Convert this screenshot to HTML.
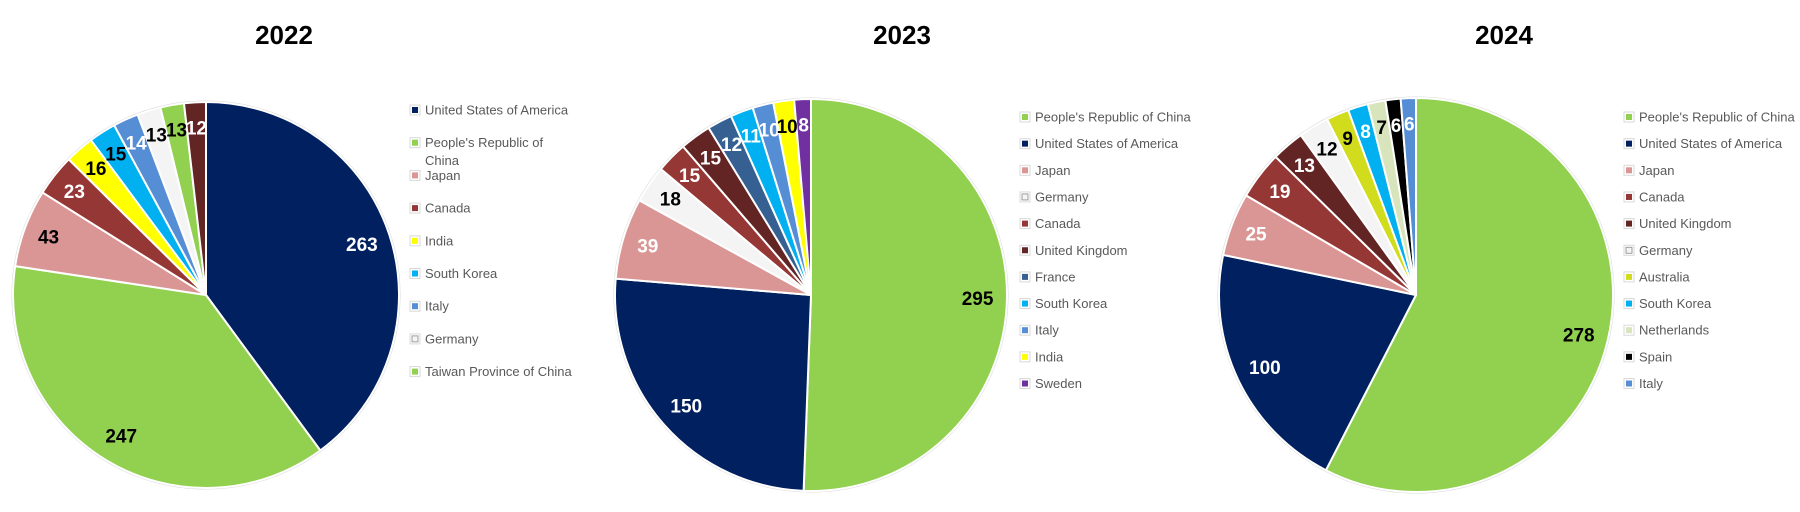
<!DOCTYPE html>
<html><head><meta charset="utf-8">
<style>
html,body{margin:0;padding:0;background:#fff;}
svg{display:block;font-family:"Liberation Sans",sans-serif;}
</style></head>
<body>
<svg id="chart" width="1800" height="512" viewBox="0 0 1800 512" xmlns="http://www.w3.org/2000/svg"></svg>
<script>
const cats2022 = ["United States of America","People's Republic of China","Japan","Canada","India","South Korea","Italy","Germany","Taiwan Province of China","United Kingdom"];
const vals2022 = [263,247,43,23,16,15,14,13,13,12];
const legend2022 = ["United States of America","People's Republic of\nChina","Japan","Canada","India","South Korea","Italy","Germany","Taiwan Province of China"];

const cats2023 = ["People's Republic of China","United States of America","Japan","Germany","Canada","United Kingdom","France","South Korea","Italy","India","Sweden"];
const vals2023 = [295,150,39,18,15,15,12,11,10,10,8];

const cats2024 = ["People's Republic of China","United States of America","Japan","Canada","United Kingdom","Germany","Australia","South Korea","Netherlands","Spain","Italy"];
const vals2024 = [278,100,25,19,13,12,9,8,7,6,6];

const colorOf = {"United States of America":"#002060","People's Republic of China":"#92d050","Japan":"#da9694","Canada":"#953735","India":"#ffff00","South Korea":"#00b0f0","Italy":"#558ed5","Germany":"#f4f4f4","Taiwan Province of China":"#92d050","United Kingdom":"#632523","France":"#366092","Sweden":"#7030a0","Australia":"#d0dc1c","Netherlands":"#d8e4bc","Spain":"#000000"};
const darkText = {"People's Republic of China":1,"India":1,"Germany":1,"Taiwan Province of China":1,"Australia":1,"Netherlands":1,"South Korea2022":1};

const charts = [
 {year:"2022",cats:cats2022,vals:vals2022,legend:legend2022,cx:206,cy:295,r:193,tx:284,lx:415,ly:110,step:32.7,labelColors:["#fff","#000","#000","#fff","#000","#000","#fff","#000","#000","#fff"]},
 {year:"2023",cats:cats2023,vals:vals2023,legend:cats2023,cx:811,cy:295,r:196,tx:902,lx:1025,ly:117,step:26.65,labelColors:["#000","#fff","#fff","#000","#fff","#fff","#fff","#fff","#fff","#000","#fff"]},
 {year:"2024",cats:cats2024,vals:vals2024,legend:cats2024,cx:1416,cy:295,r:197,tx:1504,lx:1629,ly:117,step:26.65,labelColors:["#000","#fff","#fff","#fff","#fff","#000","#000","#fff","#000","#fff","#fff"]}
];
const NS="http://www.w3.org/2000/svg";
const svg=document.getElementById('chart');
function mk(tag,attrs,parent){const e=document.createElementNS(NS,tag);for(const k in attrs)e.setAttribute(k,attrs[k]);parent.appendChild(e);return e;}
function angleScale(total){return v=>v/total*Math.PI*2;}
function pt(cx,cy,r,a){return [cx+r*Math.sin(a),cy-r*Math.cos(a)];}

charts.forEach(c=>{
  const g=mk('g',{},svg);
  
  
  const t=mk('text',{x:c.tx,y:44,'text-anchor':'middle','font-size':26,'font-weight':'bold',fill:'#000'},g);
  t.textContent=c.year;
  
  
  const outline=mk('circle',{cx:c.cx,cy:c.cy,r:c.r+1,fill:'none',stroke:'#d9d9d9','stroke-width':1},g);
  
  
  const total=c.vals.reduce((a,b)=>a+b,0);
  const ang=angleScale(total);
  let a0=0;
  c.vals.forEach((v,i)=>{
    const a1=a0+ang(v);
    const p0=pt(c.cx,c.cy,c.r,a0),p1=pt(c.cx,c.cy,c.r,a1);
    const large=(a1-a0)>Math.PI?1:0;
    const col=colorOf[c.cats[i]];
    const p=mk('path',{d:`M${c.cx},${c.cy}L${p0[0]},${p0[1]}A${c.r},${c.r} 0 ${large} 1 ${p1[0]},${p1[1]}Z`,fill:col,stroke:'#fff','stroke-width':2,'stroke-linejoin':'round'},g);
    
    
    if(c.cats[i]==="Germany"){p.setAttribute('stroke','#fff');}
    a0=a1;
  });
  a0=0;
  c.vals.forEach((v,i)=>{
    const a1=a0+ang(v);
    const am=(a0+a1)/2;
    const frac=(a1-a0)>1?0.85:0.87;
    const q=pt(c.cx,c.cy,c.r*frac,am);
    const lt=mk('text',{x:q[0],y:q[1]+7,'text-anchor':'middle','font-size':19,'font-weight':'bold',fill:c.labelColors[i]},g);
    lt.textContent=v;
    
    
    a0=a1;
  });
  const lg=mk('g',{},g);
  
  
  let row=0;
  c.legend.forEach((name,i)=>{
    const y=c.ly+row*c.step;
    const lines=name.split('\n');
    const key=lines.join(' ');
    const eg=mk('g',{},lg);
    
    
    mk('rect',{x:c.lx-5,y:y-5,width:10,height:10,fill:'#fff',stroke:'#d9d9d9','stroke-width':1},eg);
    const sw=mk('rect',{x:c.lx-3,y:y-3,width:6,height:6,fill:colorOf[key],stroke:key==="Germany"?'#888':'none','stroke-width':0.8},eg);
    
    
    lines.forEach((ln,j)=>{
      const tt=mk('text',{x:c.lx+10,y:y+4.5+j*18,'font-size':13,fill:'#595959'},eg);
      tt.textContent=ln;
    });
    row+=1;
  });
});
</script>
</body></html>
